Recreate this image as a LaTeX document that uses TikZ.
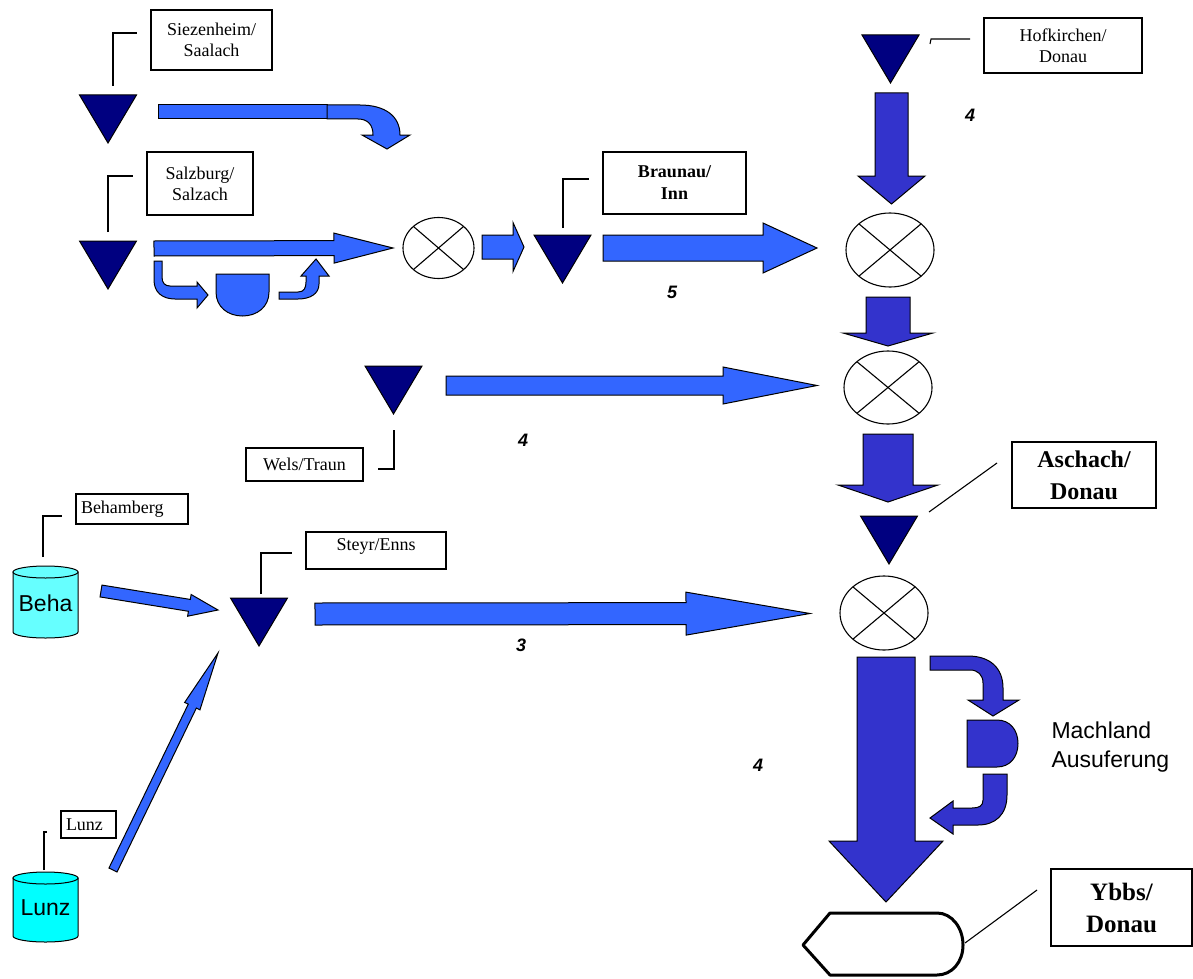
\documentclass[tikz,border=0pt]{standalone}
\usepackage{fontspec}
\setmainfont{Liberation Serif}
\setsansfont{Liberation Sans}
\usepackage{tikz}
\usetikzlibrary{positioning,calc,shapes.geometric}

\definecolor{gauge}{HTML}{000080}
\definecolor{inflow}{HTML}{3366FF}
\definecolor{donau}{HTML}{3333CC}
\definecolor{basin}{HTML}{66FFFF}
\definecolor{basintwo}{HTML}{00FFFF}

% straight block arrow: from, to, half shaft, half head, head length
\newcommand{\blockflow}[6][flow]{%
  \coordinate (hb) at ($(#3)!#6!(#2)$);
  \draw[#1] ($(#2)!#4!90:(#3)$) -- ($(hb)!#4!90:(#3)$) -- ($(hb)!#5!90:(#3)$) -- (#3)
    -- ($(hb)!#5!-90:(#3)$) -- ($(hb)!#4!-90:(#3)$) -- ($(#2)!#4!-90:(#3)$) -- cycle;}

\tikzset{
  station/.style={draw=black,fill=gauge,line width=1pt,line join=miter},
  flow/.style={draw=black,fill=inflow,line width=1pt},
  mainflow/.style={draw=black,fill=donau,line width=1pt},
  merge/.style={draw,ellipse,fill=white,line width=1.1pt,inner sep=0pt,outer sep=0pt},
  namebox/.style={draw,line width=1.1pt,align=center,inner sep=0pt,font=\fontsize{18}{21}\selectfont},
  leader/.style={line width=1.1pt},
  flownum/.style={font=\sffamily\bfseries\itshape\fontsize{18}{21}\selectfont},
}

\begin{document}
\begin{tikzpicture}[x=1pt,y=-1pt]
  \useasboundingbox (0,0) rectangle (1193,979);

  % gauging stations
  \foreach \n/\x/\y in {sz/108/95,sg/108/241,br/562.5/235,hk/890.5/35,wl/393.5/366,as/889/516,st/259/598} {
    \draw[station] (\x-28.5,\y) -- (\x+28.5,\y) -- (\x,\y+48) -- cycle;
    \coordinate (\n) at (\x,\y);
  }

  % confluences
  \node[merge,minimum width=71pt,minimum height=61pt] (m1) at (438.5,248) {};
  \node[merge,minimum width=88pt,minimum height=74pt] (m2) at (890,250) {};
  \node[merge,minimum width=88pt,minimum height=73pt] (m3) at (888,387.5) {};
  \node[merge,minimum width=88pt,minimum height=74pt] (m4) at (884,613) {};
  \foreach \m in {m1,m2,m3,m4}
    \draw[line width=1.1pt] (\m.north west) -- (\m.south east) (\m.north east) -- (\m.south west);

  % station names
  \node[namebox,minimum width=121pt,minimum height=60pt] (szbox) at (211.5,40) {Siezenheim/\\Saalach};
  \node[namebox,minimum width=106pt,minimum height=63pt] (sgbox) at (200,183.5) {Salzburg/\\Salzach};
  \node[namebox,minimum width=143pt,minimum height=62pt,font=\bfseries\fontsize{18}{22}\selectfont] (brbox) at (674.5,183) {Braunau/\\Inn};
  \node[namebox,minimum width=158pt,minimum height=55pt] (hkbox) at (1063,45.5) {Hofkirchen/\\Donau};
  \node[namebox,minimum width=144pt,minimum height=66pt,font=\bfseries\fontsize{24}{32}\selectfont] (asbox) at (1084,475) {Aschach/\\Donau};
  \node[namebox,minimum width=117pt,minimum height=33pt] (wlbox) at (304.5,464.5) {Wels/Traun};
  \node[namebox,minimum width=140pt,minimum height=37pt,text depth=12pt] (stbox) at (376,550.5) {Steyr/Enns};
  \node[namebox,text width=102pt,align=left,inner xsep=5pt,minimum height=30pt] (bhbox) at (132,509) {Behamberg};
  \node[namebox,text width=45pt,align=left,inner xsep=5pt,minimum height=27pt] (lzbox) at (88.5,824.5) {Lunz};
  \node[namebox,minimum width=141pt,minimum height=77pt,font=\bfseries\fontsize{25}{32}\selectfont] (ybbox) at (1121.5,907.5) {Ybbs/\\Donau};

  % leader lines
  \draw[leader] (113,86) |- (137,33);
  \draw[leader] (108,232) |- (133,176);
  \draw[leader] (563,228) |- (589,179);
  \draw[leader] (930,44) -- (931,39) -- (970,39);
  \draw[leader] (394,430) |- (378,469);
  \draw[leader] (929,512) -- (997,463);
  \draw[leader] (43,557) |- (62,516);
  \draw[leader] (261,594) |- (292,553);
  \draw[leader] (44,870) |- (47,832);
  \draw[leader] (965,943) -- (1037,890);

  % storages
  \foreach \n/\yt/\yb/\c in {Beha/572/632/basin,Lunz/878/936/basintwo} {
    \draw[fill=\c,line width=1pt] (13,\yt) -- (13,\yb) .. controls (13,\yb+3.3) and (27.5,\yb+6) .. (45.5,\yb+6)
      .. controls (63.5,\yb+6) and (78,\yb+3.3) .. (78,\yb) -- (78,\yt) -- cycle;
    \draw[fill=\c,line width=1pt] (45.5,\yt) ellipse [x radius=32.5, y radius=6];
    \node[font=\sffamily\fontsize{23}{26}\selectfont] (\n) at (45.5,{(\yt+\yb)/2+1}) {\n};
  }

  % Saalach
  \draw[flow] (158,105) rectangle (327,119);
  \draw[flow] (327,105) -- (360,105) .. controls (385,105) and (400,116) .. (400,135) -- (410,135) -- (387,149)
    -- (362,135) -- (373,135) .. controls (373,125) and (368,119) .. (358,119) -- (327,119) -- cycle;

  % Salzach with retention
  \coordinate (sgout) at (154,248.5);
  \coordinate (m1in) at (393,248);
  \blockflow{sgout}{m1in}{7.5pt}{15pt}{59pt}
  \draw[flow] (154,261) -- (154,280) .. controls (154,292) and (162,299) .. (175,299) -- (197,299) -- (197,308)
    -- (208,295) -- (197,282) -- (197,286) -- (170,286) .. controls (165,286) and (162,283) .. (162,277) -- (162,261) -- cycle;
  \draw[flow] (216,274) -- (269,274) -- (269,292) .. controls (269,307) and (257,316) .. (242.5,316)
    .. controls (228,316) and (216,307) .. (216,292) -- cycle;
  \draw[flow] (279,292) -- (298,292) .. controls (304,292) and (306,288) .. (306,282) -- (306,276) -- (301,276)
    -- (316,259) -- (329,276) -- (319,276) -- (319,284) .. controls (319,294) and (310,299) .. (298,299) -- (279,299) -- cycle;

  % Inn
  \coordinate (m1out) at (482,247);
  \coordinate (brin) at (524,247);
  \blockflow{m1out}{brin}{12pt}{24.5pt}{11pt}
  \coordinate (brout) at (603,248);
  \coordinate (m2w) at (817,248);
  \blockflow{brout}{m2w}{13pt}{25pt}{54pt}
  \node[flownum] (n5) at (672,292) {5};

  % Donau
  \coordinate (hkout) at (891.5,93);
  \coordinate (m2n) at (891.5,204);
  \blockflow[mainflow]{hkout}{m2n}{16.5pt}{33.5pt}{28pt}
  \node[flownum] (n4a) at (970,115) {4};
  \coordinate (m2s) at (888,297);
  \coordinate (m3n) at (888,346);
  \blockflow[mainflow]{m2s}{m3n}{22pt}{45pt}{13pt}
  \coordinate (m3s) at (888,434);
  \coordinate (asin) at (888,502);
  \blockflow[mainflow]{m3s}{asin}{25pt}{50pt}{17pt}

  % Traun
  \coordinate (wlout) at (446,385.5);
  \coordinate (m3w) at (817,385.5);
  \blockflow{wlout}{m3w}{9.5pt}{18.5pt}{94pt}
  \node[flownum] (n4b) at (523,440) {4};

  % Enns
  \coordinate (behaout) at (101,591);
  \coordinate (stin) at (218,610);
  \blockflow{behaout}{stin}{6pt}{11pt}{29pt}
  \coordinate (lunzout) at (113,870);
  \coordinate (stlow) at (218,653);
  \blockflow{lunzout}{stlow}{4.5pt}{8.5pt}{59pt}
  \coordinate (stout) at (315,614);
  \coordinate (m4w) at (810,613.5);
  \blockflow{stout}{m4w}{11pt}{21.5pt}{124pt}
  \node[flownum] (n3) at (521,645) {3};

  % Machland
  \coordinate (m4s) at (886,657);
  \coordinate (ybin) at (886,902);
  \blockflow[mainflow]{m4s}{ybin}{29pt}{57pt}{61pt}
  \node[flownum] (n4c) at (758,765) {4};
  \draw[mainflow] (930,656) -- (968,656) .. controls (990,656) and (1003,668) .. (1003,688) -- (1003,700) -- (1019,700)
    -- (993,716) -- (968,700) -- (983,700) -- (983,683) .. controls (983,675) and (978,670) .. (970,670) -- (930,670) -- cycle;
  \draw[mainflow] (967,720) -- (997,720) .. controls (1010,720) and (1018,730) .. (1018,743.5)
    .. controls (1018,757) and (1010,767) .. (997,767) -- (967,767) -- cycle;
  \draw[mainflow] (983,774) -- (1007,774) -- (1007,795) .. controls (1007,815) and (995,825) .. (978,825) -- (953,825)
    -- (953,834) -- (930,818) -- (953,801) -- (953,808) -- (972,808) .. controls (979,808) and (983,806) .. (983,800) -- cycle;
  \node[anchor=west,align=left,font=\sffamily\fontsize{23}{29}\selectfont] (machland) at (1048,747.5) {Machland\\Ausuferung};

  % Ybbs
  \draw[line width=3pt,line join=round] (803,945) -- (830,913) -- (937,913) .. controls (952,913) and (963,928) .. (963,945)
    .. controls (963,962) and (952,975) .. (937,975) -- (830,975) -- cycle;

\end{tikzpicture}
\end{document}
